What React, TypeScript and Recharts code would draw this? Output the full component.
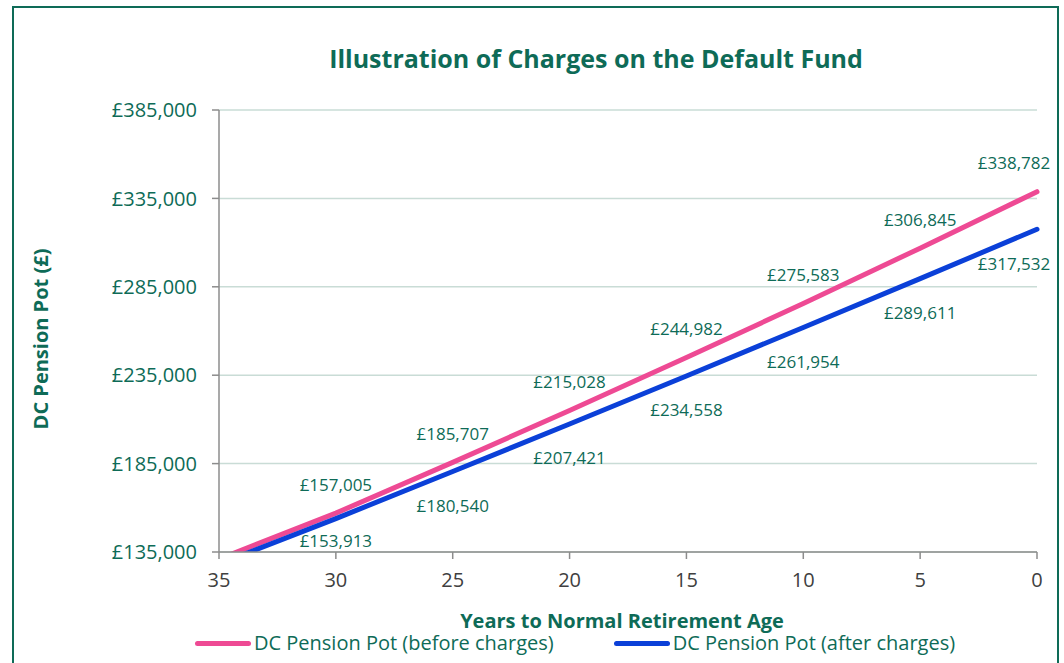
import React from 'react';
import { LineChart, Line, XAxis, YAxis, CartesianGrid, LabelList } from 'recharts';

// years to normal retirement age, reversed on the axis (35 -> 0)
const YEARS = [35, 30, 25, 20, 15, 10, 5, 0];
const BEFORE_CHARGES = [131000, 157005, 185707, 215028, 244982, 275583, 306845, 338782];
const AFTER_CHARGES = [128200, 153913, 180540, 207421, 234558, 261954, 289611, 317532];
const Y_TICKS = [135000, 185000, 235000, 285000, 335000, 385000];
const X_TICKS = [35, 30, 25, 20, 15, 10, 5, 0];

const GREEN = '#0e6b57';
const PINK = '#ee4a94';
const BLUE = '#0b40d8';
const FONT = '"Open Sans", sans-serif';

const data = YEARS.map((year, i) => ({
    year,
    before: BEFORE_CHARGES[i],
    after: AFTER_CHARGES[i],
}));

const money = (v: number) => '£' + v.toLocaleString('en-GB');

// Excel-style data labels: above for "before", below for "after", kept inside the plot
const makeLabel = (dy: number) => (props: any) => {
    const { x, y, value, index } = props;
    if (index === 0) return null;
    const lx = index === YEARS.length - 1 ? x - 23 : x;
    const ly = Math.min(y + dy, 540);
    return (
        <text x={lx} y={ly} textAnchor="middle" dominantBaseline="central"
            fill={GREEN} fontSize={17} fontFamily={FONT}>
            {money(value)}
        </text>
    );
};

function LegendItem({ color, text }: { color: string; text: string }) {
    return (
        <div style={{ display: 'flex', alignItems: 'center' }}>
            <div style={{ width: 56, height: 5, borderRadius: 3, background: color, marginRight: 3 }} />
            <span>{text}</span>
        </div>
    );
}

export default function App() {
    return (
        <div style={{ position: 'fixed', left: 0, top: 0, width: 1064, height: 663, background: '#fff', overflow: 'hidden', fontFamily: FONT }}>
            <div style={{ position: 'absolute', left: 12, top: 6, width: 1047, height: 720, border: `2px solid ${GREEN}`, boxSizing: 'border-box' }} />
            <div style={{ position: 'absolute', left: 0, width: 1192, top: 38, textAlign: 'center', color: GREEN, fontWeight: 700, fontSize: 25, lineHeight: '40px' }}>
                Illustration of Charges on the Default Fund
            </div>
            <div style={{ position: 'absolute', left: 0, top: 0 }}>
                <LineChart width={1064} height={663} data={data}
                    margin={{ top: 110, right: 27, bottom: 51, left: 0 }}>
                    <CartesianGrid vertical={false} stroke="#c9dcd6" strokeWidth={1.5} />
                    <XAxis
                        dataKey="year"
                        type="number"
                        domain={[0, 35]}
                        reversed
                        ticks={X_TICKS}
                        height={60}
                        tickSize={7}
                        tickMargin={14}
                        stroke="#8c8c8c"
                        strokeWidth={1.5}
                        tick={{ fill: '#404040', fontSize: 20, fontFamily: FONT }}
                        label={(p: any) => (
                            <text x={622} y={620} textAnchor="middle" dominantBaseline="central"
                                fill={GREEN} fontWeight={700} fontSize={20} fontFamily={FONT}>
                                Years to Normal Retirement Age
                            </text>
                        )}
                    />
                    <YAxis
                        type="number"
                        domain={[135000, 385000]}
                        ticks={Y_TICKS}
                        allowDataOverflow
                        width={219}
                        tickSize={7}
                        tickMargin={15}
                        stroke="#8c8c8c"
                        strokeWidth={1.5}
                        tickFormatter={money}
                        tick={{ fill: GREEN, fontSize: 20, fontFamily: FONT }}
                        label={(p: any) => (
                            <text x={40} y={339} textAnchor="middle" dominantBaseline="central"
                                transform="rotate(-90, 40, 339)"
                                fill={GREEN} fontWeight={700} fontSize={20} fontFamily={FONT}>
                                DC Pension Pot (£)
                            </text>
                        )}
                    />
                    <Line type="linear" dataKey="before" stroke={PINK} strokeWidth={5}
                        strokeLinecap="round" dot={false} isAnimationActive={false}>
                        <LabelList dataKey="before" content={makeLabel(-29)} />
                    </Line>
                    <Line type="linear" dataKey="after" stroke={BLUE} strokeWidth={5}
                        strokeLinecap="round" dot={false} isAnimationActive={false}>
                        <LabelList dataKey="after" content={makeLabel(34)} />
                    </Line>
                </LineChart>
            </div>
            <div style={{ position: 'absolute', left: 195, top: 629, display: 'flex', gap: 60, color: GREEN, fontSize: 20, lineHeight: '28px' }}>
                <LegendItem color={PINK} text="DC Pension Pot (before charges)" />
                <LegendItem color={BLUE} text="DC Pension Pot (after charges)" />
            </div>
        </div>
    );
}
